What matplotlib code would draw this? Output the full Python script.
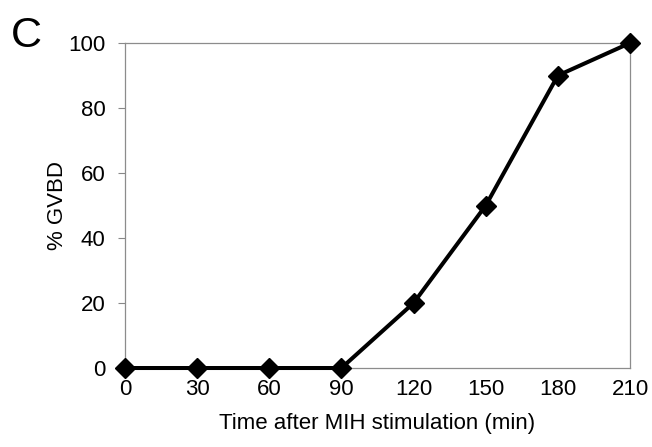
import matplotlib.pyplot as plt

plt.rcParams['font.family'] = ['Liberation Sans', 'DejaVu Sans']

# time after MIH stimulation (min) and % GVBD
time_min = [0, 30, 60, 90, 120, 150, 180, 210]
gvbd_pct = [0, 0, 0, 0, 20, 50, 90, 100]
x_ticks = [0, 30, 60, 90, 120, 150, 180, 210]
y_ticks = [0, 20, 40, 60, 80, 100]

fig = plt.figure(figsize=(6.52, 4.47), dpi=100)
ax = fig.add_axes([0.1917, 0.1767, 0.7746, 0.7271])

ax.plot(time_min, gvbd_pct, color='black', lw=2.9, marker='D', ms=10,
        clip_on=False, zorder=3)

ax.set_xlim(0, 210)
ax.set_ylim(0, 100)
ax.set_xticks(x_ticks)
ax.set_yticks(y_ticks)
ax.tick_params(axis='x', length=0, pad=8, labelsize=16)
ax.tick_params(axis='y', length=5, width=0.8, color='#888888', pad=9, labelsize=16)

for s in ax.spines.values():
    s.set_color('#8c8c8c')
    s.set_linewidth(0.9)

ax.set_xlabel('Time after MIH stimulation (min)', fontsize=16, labelpad=9)
ax.set_ylabel('% GVBD', fontsize=16, labelpad=0)

fig.text(0.017, 0.895, 'C', fontsize=31)

fig.savefig('out.png', dpi=100)
